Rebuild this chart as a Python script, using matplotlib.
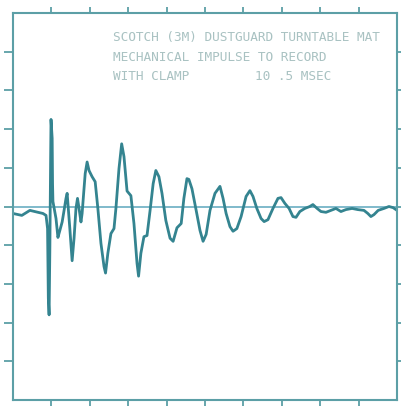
import matplotlib
matplotlib.use("Agg")
import matplotlib.pyplot as plt

# Oscilloscope trace: time and amplitude in screen divisions
t_div = [0.00, 0.23, 0.44, 0.65, 0.78, 0.86, 0.90, 0.92, 0.94, 0.96, 0.98, 0.99,
         1.02, 1.03, 1.04, 1.12, 1.17, 1.22, 1.28, 1.33, 1.38, 1.41, 1.43, 1.48,
         1.54, 1.59, 1.64, 1.68, 1.72, 1.77, 1.80, 1.84, 1.88, 1.93, 1.98, 2.06,
         2.14, 2.21, 2.29, 2.37, 2.41, 2.47, 2.55, 2.63, 2.68, 2.76, 2.83, 2.89,
         2.97, 3.07, 3.15, 3.23, 3.27, 3.33, 3.41, 3.49, 3.57, 3.65, 3.72, 3.80,
         3.88, 3.98, 4.09, 4.17, 4.27, 4.38, 4.45, 4.53, 4.58, 4.66, 4.77, 4.87,
         4.95, 5.03, 5.13, 5.26, 5.39, 5.47, 5.55, 5.65, 5.73, 5.83, 5.94, 6.07,
         6.17, 6.25, 6.35, 6.46, 6.54, 6.64, 6.77, 6.90, 6.98, 7.08, 7.19, 7.29,
         7.37, 7.47, 7.60, 7.73, 7.81, 7.92, 8.02, 8.15, 8.28, 8.41, 8.54, 8.67,
         8.83, 8.98, 9.14, 9.24, 9.32, 9.40, 9.51, 9.66, 9.79, 9.90, 10.00]
amp_div = [-0.18, -0.23, -0.10, -0.15, -0.18, -0.23, -0.57, -2.37, -2.80, -1.08, 1.24, 2.25,
           1.76, 0.59, 0.13, -0.31, -0.80, -0.62, -0.40, -0.10, 0.21, 0.34, 0.08, -0.57,
           -1.40, -0.82, -0.05, 0.21, -0.05, -0.40, -0.18, 0.34, 0.85, 1.15, 0.93, 0.77,
           0.64, -0.05, -0.95, -1.55, -1.72, -1.21, -0.70, -0.57, -0.05, 0.98, 1.62, 1.29,
           0.40, 0.28, -0.44, -1.47, -1.80, -1.21, -0.78, -0.75, -0.10, 0.59, 0.93, 0.77,
           0.34, -0.36, -0.82, -0.90, -0.55, -0.44, 0.21, 0.72, 0.70, 0.46, -0.10, -0.62,
           -0.90, -0.72, -0.10, 0.34, 0.52, 0.21, -0.18, -0.52, -0.64, -0.57, -0.26, 0.26,
           0.41, 0.26, -0.05, -0.31, -0.39, -0.34, -0.05, 0.21, 0.23, 0.08, -0.05, -0.26,
           -0.28, -0.13, -0.05, 0.00, 0.05, -0.05, -0.13, -0.15, -0.10, -0.05, -0.13, -0.08,
           -0.05, -0.08, -0.10, -0.18, -0.26, -0.21, -0.10, -0.05, 0.00, -0.03, -0.10]

title_lines = ["SCOTCH (3M) DUSTGUARD TURNTABLE MAT",
               "MECHANICAL IMPULSE TO RECORD",
               "WITH CLAMP"]
scale_label = "10 .5 MSEC"

div_ticks = list(range(1, 10))

frame_col = "#5c9fa6"
trace_col = "#348490"
base_col = "#7fbacb"
text_col = "#a9c2c2"

W, H = 403, 410
fig = plt.figure(figsize=(W / 100, H / 100), dpi=100)
ax = fig.add_axes([13 / W, (H - 401) / H, 384 / W, 387 / H])
ax.set_xlim(0, 10)
ax.set_ylim(-5, 5)

# zero reference line
ax.axhline(0, color=base_col, lw=1.4, zorder=1)

ax.plot(t_div, amp_div, color=trace_col, lw=2.0, solid_joinstyle="round",
        solid_capstyle="round", zorder=2)

for s in ax.spines.values():
    s.set_color(frame_col)
    s.set_linewidth(1.5)

# graticule ticks, each edge with its own length
ax.set_xticks(div_ticks)
ax.set_yticks([v - 5 for v in div_ticks])
ax.tick_params(axis="x", direction="out", length=4.5, width=1.3, color=frame_col,
               labelbottom=False)
ax.tick_params(axis="y", direction="out", length=6.5, width=1.3, color=frame_col,
               labelleft=False)

top = ax.secondary_xaxis("top")
top.set_xticks(div_ticks)
top.tick_params(direction="out", length=4.5, width=1.3, color=frame_col,
                labeltop=False)
top.spines["top"].set_visible(False)

right = ax.secondary_yaxis("right")
right.set_yticks([v - 5 for v in div_ticks])
right.tick_params(direction="out", length=3, width=1.3, color=frame_col,
                  labelright=False)
right.spines["right"].set_visible(False)

mono = "DejaVu Sans Mono"
x_text = (113 - 13) / 384 * 10
for i, y_px in enumerate([38, 57.5, 77]):
    ax.text(x_text, 5 - (y_px - 14) / 387 * 10, title_lines[i],
            family=mono, fontsize=9.2, color=text_col, va="center", ha="left")
ax.text((255 - 13) / 384 * 10, 5 - (77 - 14) / 387 * 10, scale_label,
        family=mono, fontsize=9.2, color=text_col, va="center", ha="left")

fig.savefig("out.png", dpi=100, facecolor="white")
